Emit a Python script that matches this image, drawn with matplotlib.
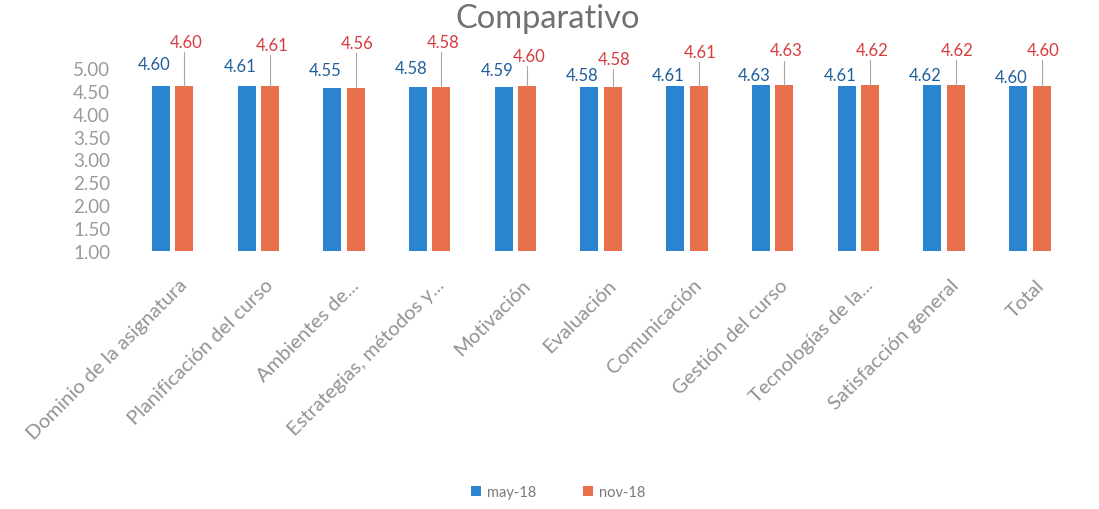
import matplotlib
matplotlib.use("Agg")
import matplotlib.pyplot as plt
import matplotlib.transforms as mtransforms
import numpy as np

categories = ["Dominio de la asignatura", "Planificación del curso", "Ambientes de...",
              "Estrategias, métodos y...", "Motivación", "Evaluación", "Comunicación",
              "Gestión del curso", "Tecnologías de la...", "Satisfacción general", "Total"]
may_18 = [4.60, 4.61, 4.55, 4.58, 4.59, 4.58, 4.61, 4.63, 4.61, 4.62, 4.60]
nov_18 = [4.60, 4.61, 4.56, 4.58, 4.60, 4.58, 4.61, 4.63, 4.62, 4.62, 4.60]
series_names = ["may-18", "nov-18"]
yticks = [1.00, 1.50, 2.00, 2.50, 3.00, 3.50, 4.00, 4.50, 5.00]

# label placement (layout only)
red_label_y = [5.57, 5.50, 5.54, 5.57, 5.25, 5.20, 5.35, 5.38, 5.40, 5.40, 5.40]
blue_label_y = [5.09, 5.05, 4.95, 5.00, 4.95, 4.85, 4.85, 4.85, 4.85, 4.85, 4.80]

plt.rcParams['font.family'] = ['Lato', 'DejaVu Sans']

blue = "#2B84CF"
orange = "#E8704A"
blue_txt = "#1E5E9C"
red_txt = "#D63B3F"

fig = plt.figure(figsize=(10.99, 5.10), dpi=100)
ax = fig.add_axes([0.118, 0.506, 0.858, 0.359])

x = np.arange(len(categories))
w = 0.21
off = 0.137
base = 1.0
ax.bar(x - off, np.array(may_18) - base, w, bottom=base, color=blue, label=series_names[0])
ax.bar(x + off, np.array(nov_18) - base, w, bottom=base, color=orange, label=series_names[1])

for i in range(len(categories)):
    ax.text(x[i] - off - 0.08, blue_label_y[i], f"{may_18[i]:.2f}", color=blue_txt,
            ha="center", va="center", fontsize=12, clip_on=False)
    ax.text(x[i] + off + 0.02, red_label_y[i], f"{nov_18[i]:.2f}", color=red_txt,
            ha="center", va="center", fontsize=12, clip_on=False)
    ax.plot([x[i] + off, x[i] + off], [red_label_y[i] - 0.22, nov_18[i]],
            color="#A8A8A8", lw=0.8, clip_on=False)

ax.set_xlim(-0.5, len(categories) - 0.5)
ax.set_ylim(1.0, 5.0)
ax.set_yticks(yticks)
ax.set_yticklabels([f"{t:.2f}" for t in yticks], color="#9A9A9A", fontsize=13.5)
ax.tick_params(axis="y", length=0, pad=14)
ax.set_xticks(x)
ax.set_xticklabels(categories, rotation=45, ha="right", rotation_mode="anchor",
                   color="#939393", fontsize=14.5)
ax.tick_params(axis="x", length=0, pad=18)
shift = mtransforms.ScaledTranslation(6 / 100, 0, fig.dpi_scale_trans)
for lab in ax.get_xticklabels():
    lab.set_transform(lab.get_transform() + shift)
for s in ax.spines.values():
    s.set_visible(False)

fig.text(0.498, 0.962, "Comparativo", ha="center", va="center", fontsize=23.5,
         color="#707070")

fig.legend(loc="center", bbox_to_anchor=(0.508, 0.033), ncol=2, frameon=False,
           fontsize=10.5, handlelength=0.7, handleheight=0.7, handletextpad=0.4,
           columnspacing=3.2, labelcolor="#7A7A7A")

fig.savefig("out.png", dpi=100, facecolor="white")
